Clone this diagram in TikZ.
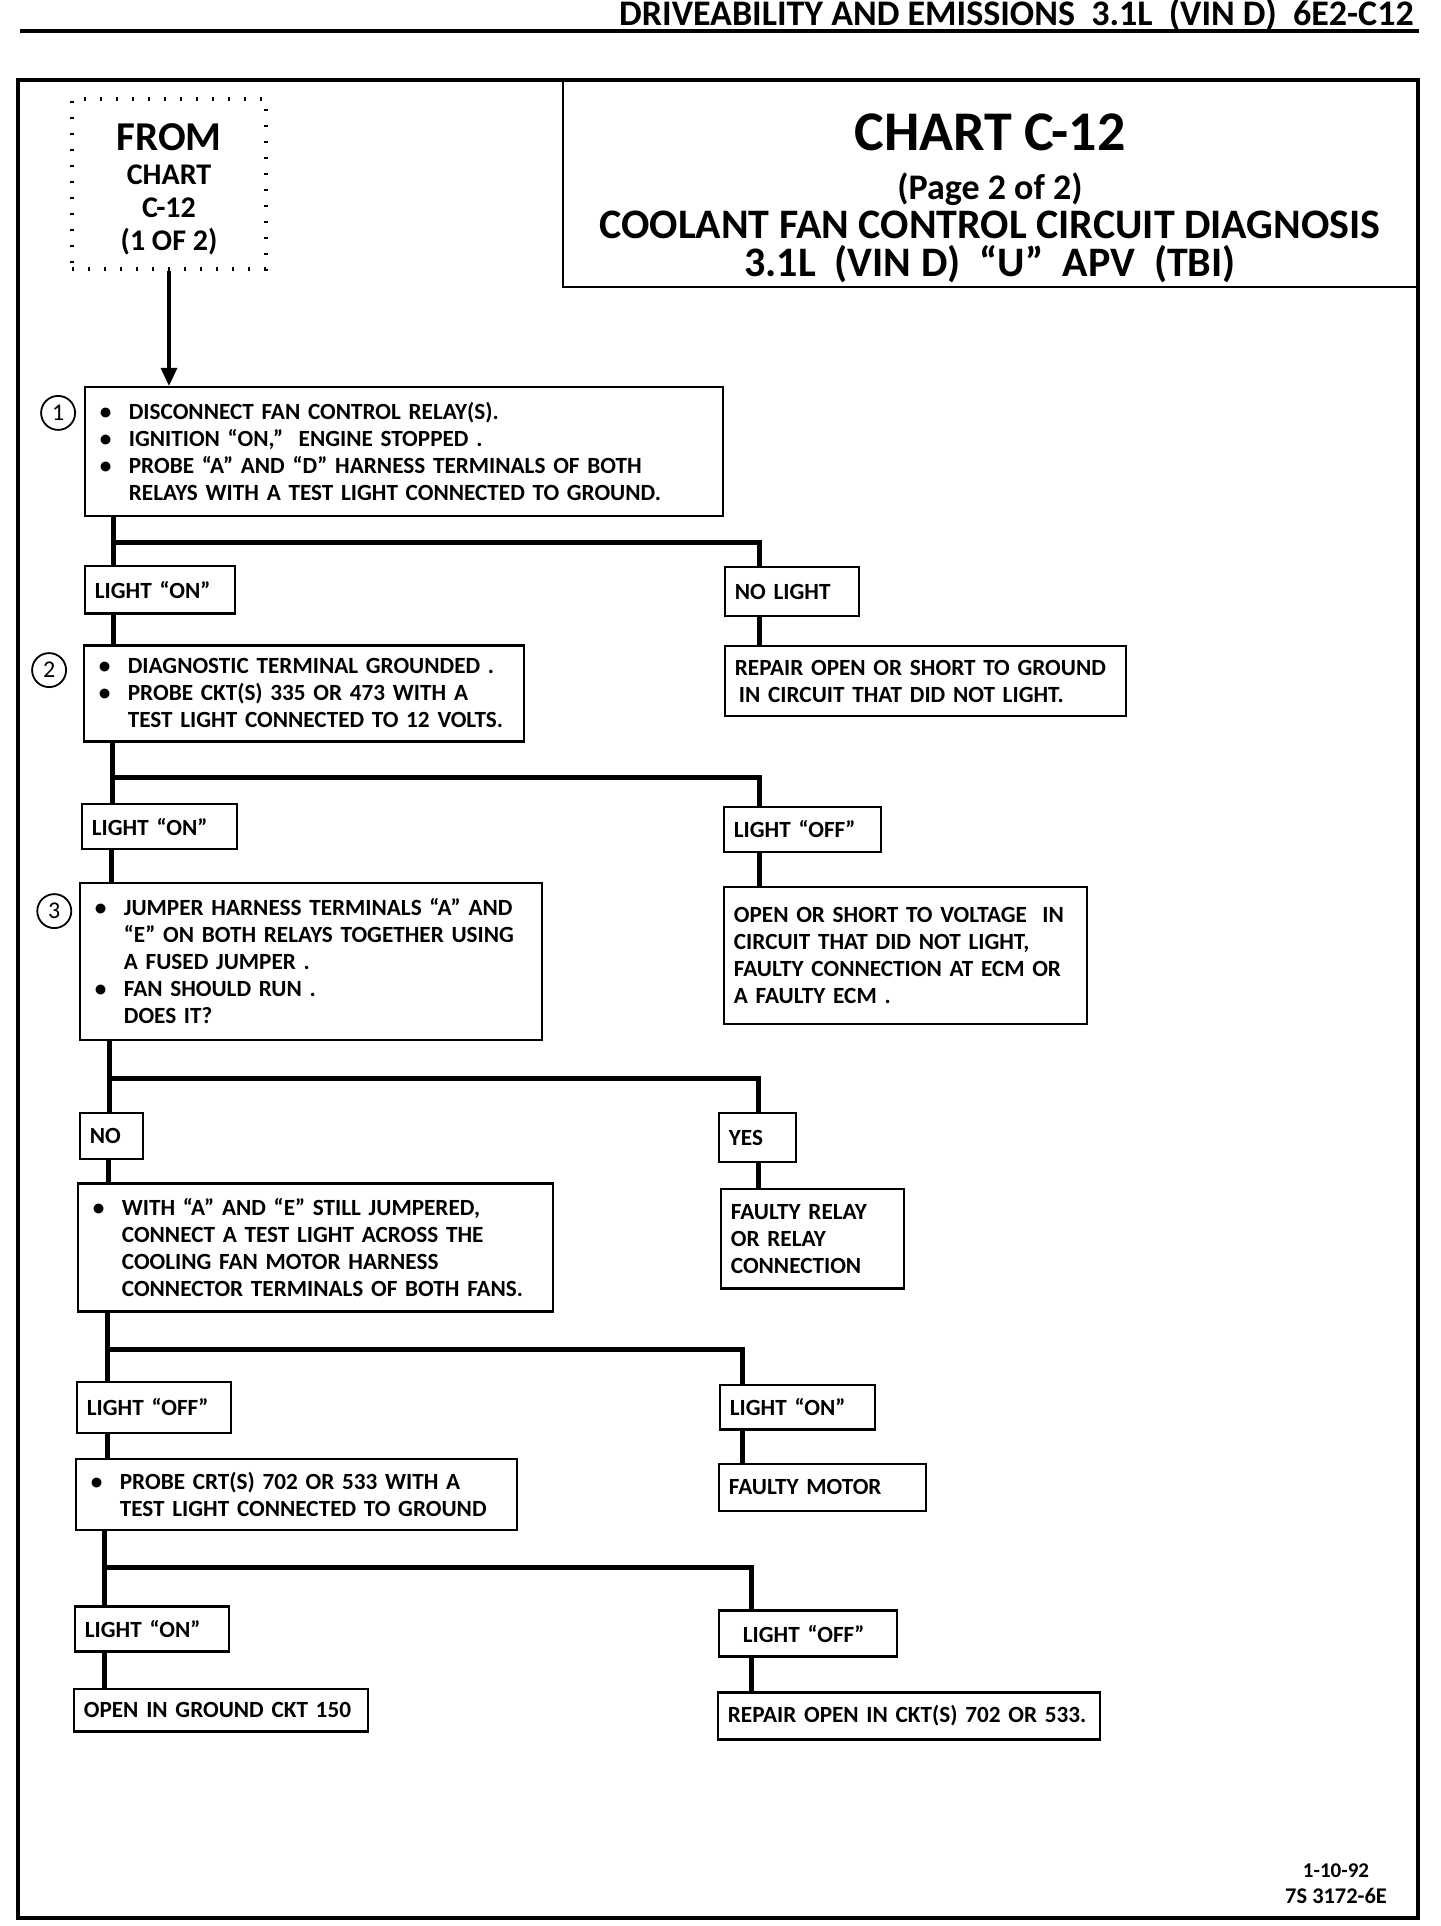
\documentclass[tikz,border=0pt]{standalone}
\usepackage{fontspec}
\setmainfont{Carlito}
\usepackage{tikz}
\usetikzlibrary{shapes.geometric, arrows.meta, positioning, calc}

\newcommand{\bodyfont}{\bfseries\fontsize{11.6}{13.5}\selectfont}
\newcommand{\bul}{\makebox[17pt][l]{\hspace{2.5pt}\textbullet}}
\newcommand{\ind}{\hspace*{17pt}}

\tikzstyle{frombox} = [rectangle, draw=black, line width=2.3pt, dash pattern=on 1.2pt off 6.8pt, align=center, font=\bfseries\fontsize{15}{16.5}\selectfont]
\tikzstyle{titlebox} = [rectangle, draw=black, line width=1.3pt]
\tikzstyle{stepbox} = [rectangle, draw=black, line width=1.2pt, anchor=north west, align=left, inner xsep=5pt, inner ysep=0pt, font=\bodyfont]
\tikzstyle{answer} = [rectangle, draw=black, line width=1.2pt, anchor=north west, align=left, inner xsep=5pt, inner ysep=0pt, font=\bodyfont]
\tikzstyle{stepnum} = [circle, draw=black, line width=0.9pt, minimum size=17pt, inner sep=0pt, font=\fontsize{12}{12}\selectfont]
\tikzstyle{branch} = [line width=2.6pt]
\tikzstyle{arrow} = [line width=1.6pt, -{Triangle[length=9pt,width=8pt]}]

\begin{document}
\begin{tikzpicture}
\useasboundingbox (0,0) rectangle (720pt,-963pt);

% Page header and frame
\node (header) [anchor=base east, inner sep=0pt, font=\bfseries\fontsize{18}{18}\selectfont] at (707pt,-12.9pt) {DRIVEABILITY AND EMISSIONS\ \ 3.1L\ \ (VIN D)\ \ 6E2-C12};
\draw [line width=2.4pt] (10pt,-15.5pt) -- (709.5pt,-15.5pt);
\draw [line width=2pt] (9pt,-40pt) rectangle (709pt,-959pt);

% Title
\node (title) [titlebox, minimum width=427pt, minimum height=103.5pt] at (495pt,-91.75pt) {};
\node (titletext) [below=17.3pt of title.north, anchor=north, inner sep=0pt, align=center, font=\bfseries\fontsize{21}{17.8}\selectfont] {{\fontsize{28}{17.8}\selectfont CHART C-12}\\[6.5pt]
  {\fontsize{18}{17.8}\selectfont (Page 2 of 2)}\\[1.7pt]
  COOLANT FAN CONTROL CIRCUIT DIAGNOSIS\\[1.5pt]
  3.1L\ \ (VIN D)\ \ ``U''\ \ APV\ \ (TBI)};

% Entry
\node (from) [frombox, minimum width=97pt, minimum height=85pt] at (84.5pt,-92pt) {\rule{0pt}{19pt}{\fontsize{20.5}{16.5}\selectfont FROM}\\[0.5pt] CHART\\ C-12\\ (1 OF 2)};

% Step 1
\node (step1) [stepbox, text width=309pt, minimum height=64.5pt, below=57.3pt of from.south west, xshift=7pt, anchor=north west] {\bul DISCONNECT FAN CONTROL RELAY(S).\\
  \bul IGNITION ``ON,''\ \ ENGINE STOPPED .\\
  \bul PROBE ``A'' AND ``D'' HARNESS TERMINALS OF BOTH\\
  \ind RELAYS WITH A TEST LIGHT CONNECTED TO GROUND.};
\node (num1) [stepnum] at ([xshift=-12.8pt,yshift=-13.5pt]step1.north west) {1};
\node (on1) [answer, text width=65pt, minimum height=23.7pt, below=23.8pt of step1.south west, anchor=north west] {LIGHT ``ON''};
\node (nolight) [answer, text width=57pt, minimum height=24.5pt, right=320pt of on1.north west, yshift=-0.5pt, anchor=north west] {NO LIGHT};
\node (repair1) [answer, text width=190.5pt, minimum height=35pt, below=13.8pt of nolight.south west, anchor=north west] {REPAIR OPEN OR SHORT TO GROUND\\
  \hspace*{2pt}IN CIRCUIT THAT DID NOT LIGHT.};

% Step 2
\node (step2) [stepbox, text width=210pt, minimum height=48pt, below=14.7pt of on1.south west, xshift=-0.5pt, anchor=north west] {\bul DIAGNOSTIC TERMINAL GROUNDED .\\
  \bul PROBE CKT(S) 335 OR 473 WITH A\\
  \ind TEST LIGHT CONNECTED TO 12 VOLTS.};
\node (num2) [stepnum] at ([xshift=-16.8pt,yshift=-13pt]step2.north west) {2};
\node (on2) [answer, text width=67.5pt, minimum height=22.5pt, below=30.2pt of step2.south west, xshift=-1pt, anchor=north west] {LIGHT ``ON''};
\node (off2) [answer, text width=68.5pt, minimum height=22.3pt, right=321pt of on2.north west, yshift=-1.5pt, anchor=north west] {LIGHT ``OFF''};
\node (open2) [answer, text width=171.5pt, minimum height=68.5pt, below=16.3pt of off2.south west, anchor=north west] {OPEN OR SHORT TO VOLTAGE\ \ IN\\
  CIRCUIT THAT DID NOT LIGHT,\\
  FAULTY CONNECTION AT ECM OR\\
  A FAULTY ECM .};

% Step 3
\node (step3) [stepbox, text width=221pt, minimum height=78.5pt, below=15.7pt of on2.south west, xshift=-1pt, anchor=north west] {\bul JUMPER HARNESS TERMINALS ``A'' AND\\
  \ind ``E'' ON BOTH RELAYS TOGETHER USING\\
  \ind A FUSED JUMPER .\\
  \bul FAN SHOULD RUN .\\
  \ind DOES IT?};
\node (num3) [stepnum] at ([xshift=-12.2pt,yshift=-14.7pt]step3.north west) {3};
\node (no3) [answer, text width=21.5pt, minimum height=23pt, below=35.4pt of step3.south west, anchor=north west] {NO};
\node (yes3) [answer, text width=28.5pt, minimum height=24.5pt, right=319.5pt of no3.north west, anchor=north west] {YES};
\node (relay) [answer, text width=81.5pt, minimum height=49.7pt, below=12.2pt of yes3.south west, xshift=1pt, anchor=north west] {FAULTY RELAY\\
  OR RELAY\\
  CONNECTION};

% Fan motor check
\node (with4) [stepbox, text width=227.5pt, minimum height=64pt, below=11pt of no3.south west, xshift=-1pt, anchor=north west] {\bul WITH ``A'' AND ``E'' STILL JUMPERED,\\
  \ind CONNECT A TEST LIGHT ACROSS THE\\
  \ind COOLING FAN MOTOR HARNESS\\
  \ind CONNECTOR TERMINALS OF BOTH FANS.};
\node (off4) [answer, text width=67pt, minimum height=25.5pt, below=33.9pt of with4.south west, xshift=-0.5pt, anchor=north west] {LIGHT ``OFF''};
\node (on4) [answer, text width=67.5pt, minimum height=22.3pt, right=321.5pt of off4.north west, yshift=-1.5pt, anchor=north west] {LIGHT ``ON''};
\node (motor) [answer, text width=93.5pt, minimum height=23.5pt, below=16pt of on4.south west, xshift=-0.5pt, anchor=north west] {FAULTY MOTOR};

% Ground check
\node (probe) [stepbox, text width=210.5pt, minimum height=35.5pt, below=12pt of off4.south west, xshift=-0.5pt, anchor=north west] {\bul PROBE CRT(S) 702 OR 533 WITH A\\
  \ind TEST LIGHT CONNECTED TO GROUND};
\node (on5) [answer, text width=67pt, minimum height=22.5pt, below=37pt of probe.south west, xshift=-0.5pt, anchor=north west] {LIGHT ``ON''};
\node (open5) [answer, text width=137pt, minimum height=21.2pt, below=17.5pt of on5.south west, xshift=-0.5pt, anchor=north west] {OPEN IN GROUND CKT 150};
\node (off5) [answer, text width=79pt, minimum height=23pt, right=322pt of on5.north west, yshift=-2pt, anchor=north west] {\hspace*{7pt}LIGHT ``OFF''};
\node (repair5) [answer, text width=181pt, minimum height=23.5pt, below=16.8pt of off5.south west, xshift=-0.5pt, anchor=north west] {REPAIR OPEN IN CKT(S) 702 OR 533.};

% Footer
\node (date) [anchor=base, inner sep=0pt, font=\bfseries\fontsize{10.5}{10.5}\selectfont] at (668pt,-938.5pt) {1-10-92};
\node (code) [anchor=base, inner sep=0pt, font=\bfseries\fontsize{11.2}{11.2}\selectfont] at (668pt,-951.5pt) {7S 3172-6E};

% Arrow
\draw [arrow] (from.south) -- (from.south |- step1.north);

% Branches
\coordinate (fork1) at ([xshift=15pt,yshift=-12.5pt]step1.south west);
\draw [branch] ([xshift=15pt]step1.south west) -- (fork1 |- on1.north);
\draw [branch] (fork1) -| ([xshift=17.7pt]nolight.north west);
\draw [branch] ([xshift=15pt]on1.south west) -- ([xshift=15pt]on1.south west |- step2.north);
\draw [branch] ([xshift=17.7pt]nolight.south west) -- ([xshift=17.7pt]nolight.south west |- repair1.north);

\coordinate (fork2) at ([xshift=15pt,yshift=-17.5pt]step2.south west);
\draw [branch] ([xshift=15pt]step2.south west) -- (fork2 |- on2.north);
\draw [branch] (fork2) -| ([xshift=18.2pt]off2.north west);
\draw [branch] ([xshift=15.5pt]on2.south west) -- ([xshift=15.5pt]on2.south west |- step3.north);
\draw [branch] ([xshift=18.2pt]off2.south west) -- ([xshift=18.2pt]off2.south west |- open2.north);

\coordinate (fork3) at ([xshift=15.5pt,yshift=-18.5pt]step3.south west);
\draw [branch] ([xshift=15.5pt]step3.south west) -- (fork3 |- no3.north);
\draw [branch] (fork3) -| ([xshift=20.2pt]yes3.north west);
\draw [branch] ([xshift=15pt]no3.south west) -- ([xshift=15pt]no3.south west |- with4.north);
\draw [branch] ([xshift=20.2pt]yes3.south west) -- ([xshift=20.2pt]yes3.south west |- relay.north);

\coordinate (fork4) at ([xshift=15.5pt,yshift=-18.5pt]with4.south west);
\draw [branch] ([xshift=15.5pt]with4.south west) -- (fork4 |- off4.north);
\draw [branch] (fork4) -| ([xshift=11.7pt]on4.north west);
\draw [branch] ([xshift=16pt]off4.south west) -- ([xshift=16pt]off4.south west |- probe.north);
\draw [branch] ([xshift=11.7pt]on4.south west) -- ([xshift=11.7pt]on4.south west |- motor.north);

\coordinate (fork5) at ([xshift=15pt,yshift=-18pt]probe.south west);
\draw [branch] ([xshift=15pt]probe.south west) -- (fork5 |- on5.north);
\draw [branch] (fork5) -| ([xshift=16.7pt]off5.north west);
\draw [branch] ([xshift=15.5pt]on5.south west) -- ([xshift=15.5pt]on5.south west |- open5.north);
\draw [branch] ([xshift=16.7pt]off5.south west) -- ([xshift=16.7pt]off5.south west |- repair5.north);

\end{tikzpicture}
\end{document}
